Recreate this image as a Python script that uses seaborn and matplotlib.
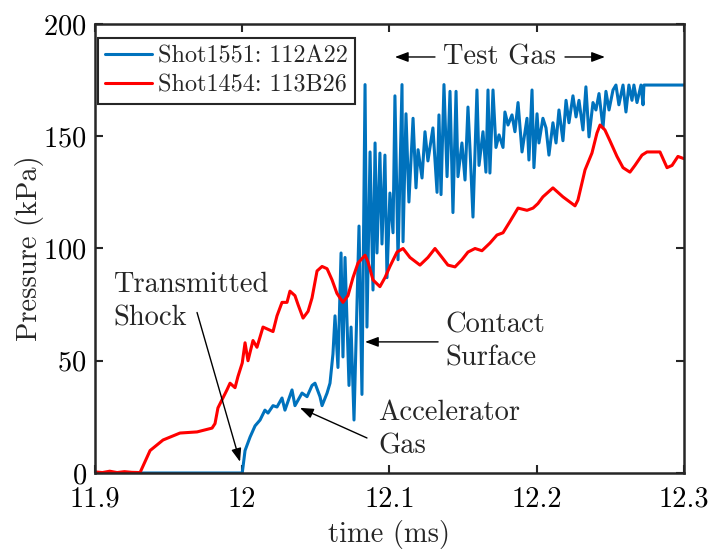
import numpy as np
import pandas as pd
import matplotlib
matplotlib.use("Agg")
import matplotlib.pyplot as plt
import seaborn as sns

# ---- data ----
blue_t = [11.9000, 12.0000, 12.0019, 12.0053, 12.0087, 12.0121, 12.0154, 12.0175, 12.0209, 12.0236,
          12.0270, 12.0290, 12.0338, 12.0358, 12.0406, 12.0440, 12.0474, 12.0494, 12.0528, 12.0542,
          12.0576, 12.0596, 12.0616, 12.0630, 12.0650, 12.0671, 12.0684, 12.0698, 12.0725, 12.0739,
          12.0759, 12.0793, 12.0813, 12.0834, 12.0847, 12.0868, 12.0888, 12.0902, 12.0915, 12.0935,
          12.0949, 12.0969, 12.0983, 12.1003, 12.1024, 12.1037, 12.1058, 12.1085, 12.1092, 12.1112,
          12.1132, 12.1160, 12.1180, 12.1194, 12.1221, 12.1241, 12.1261, 12.1295, 12.1323, 12.1336,
          12.1350, 12.1370, 12.1391, 12.1411, 12.1431, 12.1452, 12.1465, 12.1492, 12.1513, 12.1533,
          12.1547, 12.1567, 12.1594, 12.1608, 12.1635, 12.1655, 12.1669, 12.1682, 12.1703, 12.1723,
          12.1744, 12.1771, 12.1784, 12.1805, 12.1832, 12.1852, 12.1873, 12.1900, 12.1934, 12.1947,
          12.1968, 12.1981, 12.2002, 12.2015, 12.2042, 12.2063, 12.2083, 12.2110, 12.2131, 12.2151,
          12.2178, 12.2199, 12.2219, 12.2246, 12.2267, 12.2287, 12.2314, 12.2334, 12.2355, 12.2382,
          12.2402, 12.2423, 12.2450, 12.2470, 12.2491, 12.2518, 12.2538, 12.2558, 12.2586, 12.2606,
          12.2626, 12.2647, 12.2660, 12.2681, 12.2708, 12.2722, 12.2728, 12.3000]
blue_p = [0, 0, 10, 16, 21, 23.6, 28, 26.7, 30, 29.4,
          33.4, 28, 37, 30, 35.6, 34, 39, 40, 34, 30,
          35.6, 40, 53, 70, 47, 98, 51.7, 96, 39, 65,
          23.6, 110, 35, 173, 65, 143, 81.5, 147, 98, 142.5,
          102, 141.6, 87, 124.7, 107, 168, 95, 173, 103, 160,
          120.7, 158, 127, 144, 131.4, 152, 139, 153.7, 125, 159.5,
          124, 173, 132, 170, 116, 170, 132, 147, 130.5, 163,
          144, 114, 170.6, 137, 152, 134, 170.6, 133.6, 170.6, 145,
          150.6, 145, 160.8, 155, 159.5, 152, 165, 143, 158, 139.4,
          170.6, 136, 160, 147, 158, 153.7, 141.6, 156, 147, 161.7,
          148, 166, 156, 168, 158.6, 166, 152.8, 172, 149.7, 165,
          161.7, 169, 153.7, 170, 161.7, 170.6, 172.8, 164, 172.8, 160.8,
          172.8, 166, 172.8, 165, 172.8, 164, 172.8, 172.8]

red_t = [11.9000, 11.9050, 11.9100, 11.9150, 11.9200, 11.9250, 11.9306, 11.9374, 11.9462, 11.9577,
         11.9693, 11.9795, 11.9815, 11.9835, 11.9896, 11.9917, 11.9951, 11.9971, 12.0000, 12.0019,
         12.0039, 12.0073, 12.0100, 12.0141, 12.0175, 12.0209, 12.0236, 12.0270, 12.0304, 12.0324,
         12.0358, 12.0379, 12.0413, 12.0447, 12.0474, 12.0508, 12.0542, 12.0576, 12.0610, 12.0643,
         12.0684, 12.0718, 12.0752, 12.0786, 12.0834, 12.0854, 12.0888, 12.0935, 12.0969, 12.1003,
         12.1051, 12.1092, 12.1139, 12.1207, 12.1261, 12.1309, 12.1357, 12.1397, 12.1445, 12.1492,
         12.1533, 12.1581, 12.1628, 12.1682, 12.1730, 12.1771, 12.1818, 12.1873, 12.1934, 12.1975,
         12.2008, 12.2042, 12.2110, 12.2178, 12.2260, 12.2280, 12.2328, 12.2375, 12.2409, 12.2430,
         12.2463, 12.2497, 12.2545, 12.2586, 12.2633, 12.2667, 12.2715, 12.2749, 12.2837, 12.2885,
         12.2919, 12.2959, 12.3000]
red_p = [0.5, 0.2, 0.8, 0.2, 0.6, 0.3, 0.2, 10, 14.7, 17.8,
         18.3, 20, 22, 29, 37, 40, 38, 43, 49, 58,
         50, 59, 56, 65, 64, 63, 70, 76, 76, 81,
         79, 75, 69, 72, 78, 90, 92, 91, 86, 80,
         76, 79, 87, 93.5, 97, 94, 86, 83, 87, 92,
         98.4, 100, 96, 92.6, 96, 100, 96, 92.6, 91.8, 95,
         98.4, 100, 99, 102.4, 106, 107, 112, 118, 117, 118,
         120, 123, 127, 123, 119, 121.6, 135, 142.5, 151.4, 155,
         152.8, 148, 141, 136, 134, 137, 141.6, 143, 143, 136,
         137, 141, 140]

series_names = ["Shot1551: 112A22", "Shot1454: 113B26"]
x_ticks = [11.9, 12.0, 12.1, 12.2, 12.3]
x_ticklabels = ["11.9", "12", "12.1", "12.2", "12.3"]
y_ticks = [0, 50, 100, 150, 200]

df = pd.concat([
    pd.DataFrame({"time": blue_t, "pressure": blue_p, "shot": series_names[0]}),
    pd.DataFrame({"time": red_t, "pressure": red_p, "shot": series_names[1]}),
], ignore_index=True)

# ---- style ----
sns.set_style("ticks")
plt.rcParams["font.family"] = ["cmr10", "DejaVu Serif"]
plt.rcParams["mathtext.fontset"] = "cm"
plt.rcParams["axes.unicode_minus"] = False
plt.rcParams["axes.formatter.use_mathtext"] = True

FS = 20.5
fig = plt.figure(figsize=(7.09, 5.5), dpi=100)
ax = fig.add_axes([0.134, 0.14, 0.8307, 0.8164])

palette = {series_names[0]: "#0072BD", series_names[1]: "#FF0000"}
sns.lineplot(data=df, x="time", y="pressure", hue="shot", palette=palette,
             estimator=None, sort=False, linewidth=2.2, ax=ax)

ax.set_xlim(11.9, 12.3)
ax.set_ylim(0, 200)
ax.set_xticks(x_ticks)
ax.set_xticklabels(x_ticklabels)
ax.set_yticks(y_ticks)
ax.tick_params(direction="in", length=6, width=1.5, top=True, right=True,
               labelsize=FS, colors="#262626", labelcolor="black")
ax.tick_params(axis="x", pad=9.5)
ax.tick_params(axis="y", pad=6)
for s in ax.spines.values():
    s.set_linewidth(1.8)
    s.set_color("#262626")
    s.set_visible(True)

ax.set_xlabel("time (ms)", fontsize=FS, labelpad=5.5)
ax.set_ylabel("Pressure (kPa)", fontsize=FS, labelpad=-1)

leg = ax.legend(loc="upper left", bbox_to_anchor=(0.005, 0.969), fontsize=17.4,
                frameon=True, fancybox=False, edgecolor="#262626", framealpha=1,
                borderpad=0.3, handlelength=1.95, handletextpad=0.25,
                labelspacing=0.3, borderaxespad=0)
leg.get_frame().set_linewidth(1.5)
leg.set_title(None)

arrow = dict(arrowstyle="-|>,head_length=0.8,head_width=0.3", color="black", lw=1.0,
             shrinkA=0, shrinkB=0)

ax.text(11.9122, 76.5, "Transmitted\nShock", fontsize=FS, ha="left", va="center",
        multialignment="left", linespacing=1.35)
ax.annotate("", xy=(11.9985, 5), xytext=(11.9693, 71.5), arrowprops=arrow)

ax.text(12.0922, 19.5, "Accelerator\nGas", fontsize=FS, ha="left", va="center",
        multialignment="left", linespacing=1.35)
ax.annotate("", xy=(12.0392, 29), xytext=(12.0847, 15.6), arrowprops=arrow)

ax.text(12.1377, 58.5, "Contact\nSurface", fontsize=FS, ha="left", va="center",
        multialignment="left", linespacing=1.35)
ax.annotate("", xy=(12.0834, 58.4), xytext=(12.1330, 58.4), arrowprops=arrow)

ax.text(12.175, 185.3, "Test Gas", fontsize=FS, ha="center", va="center")
ax.annotate("", xy=(12.1037, 185.3), xytext=(12.1309, 185.3), arrowprops=arrow)
ax.annotate("", xy=(12.2463, 185.3), xytext=(12.2192, 185.3), arrowprops=arrow)

fig.savefig("out.png", dpi=100)
